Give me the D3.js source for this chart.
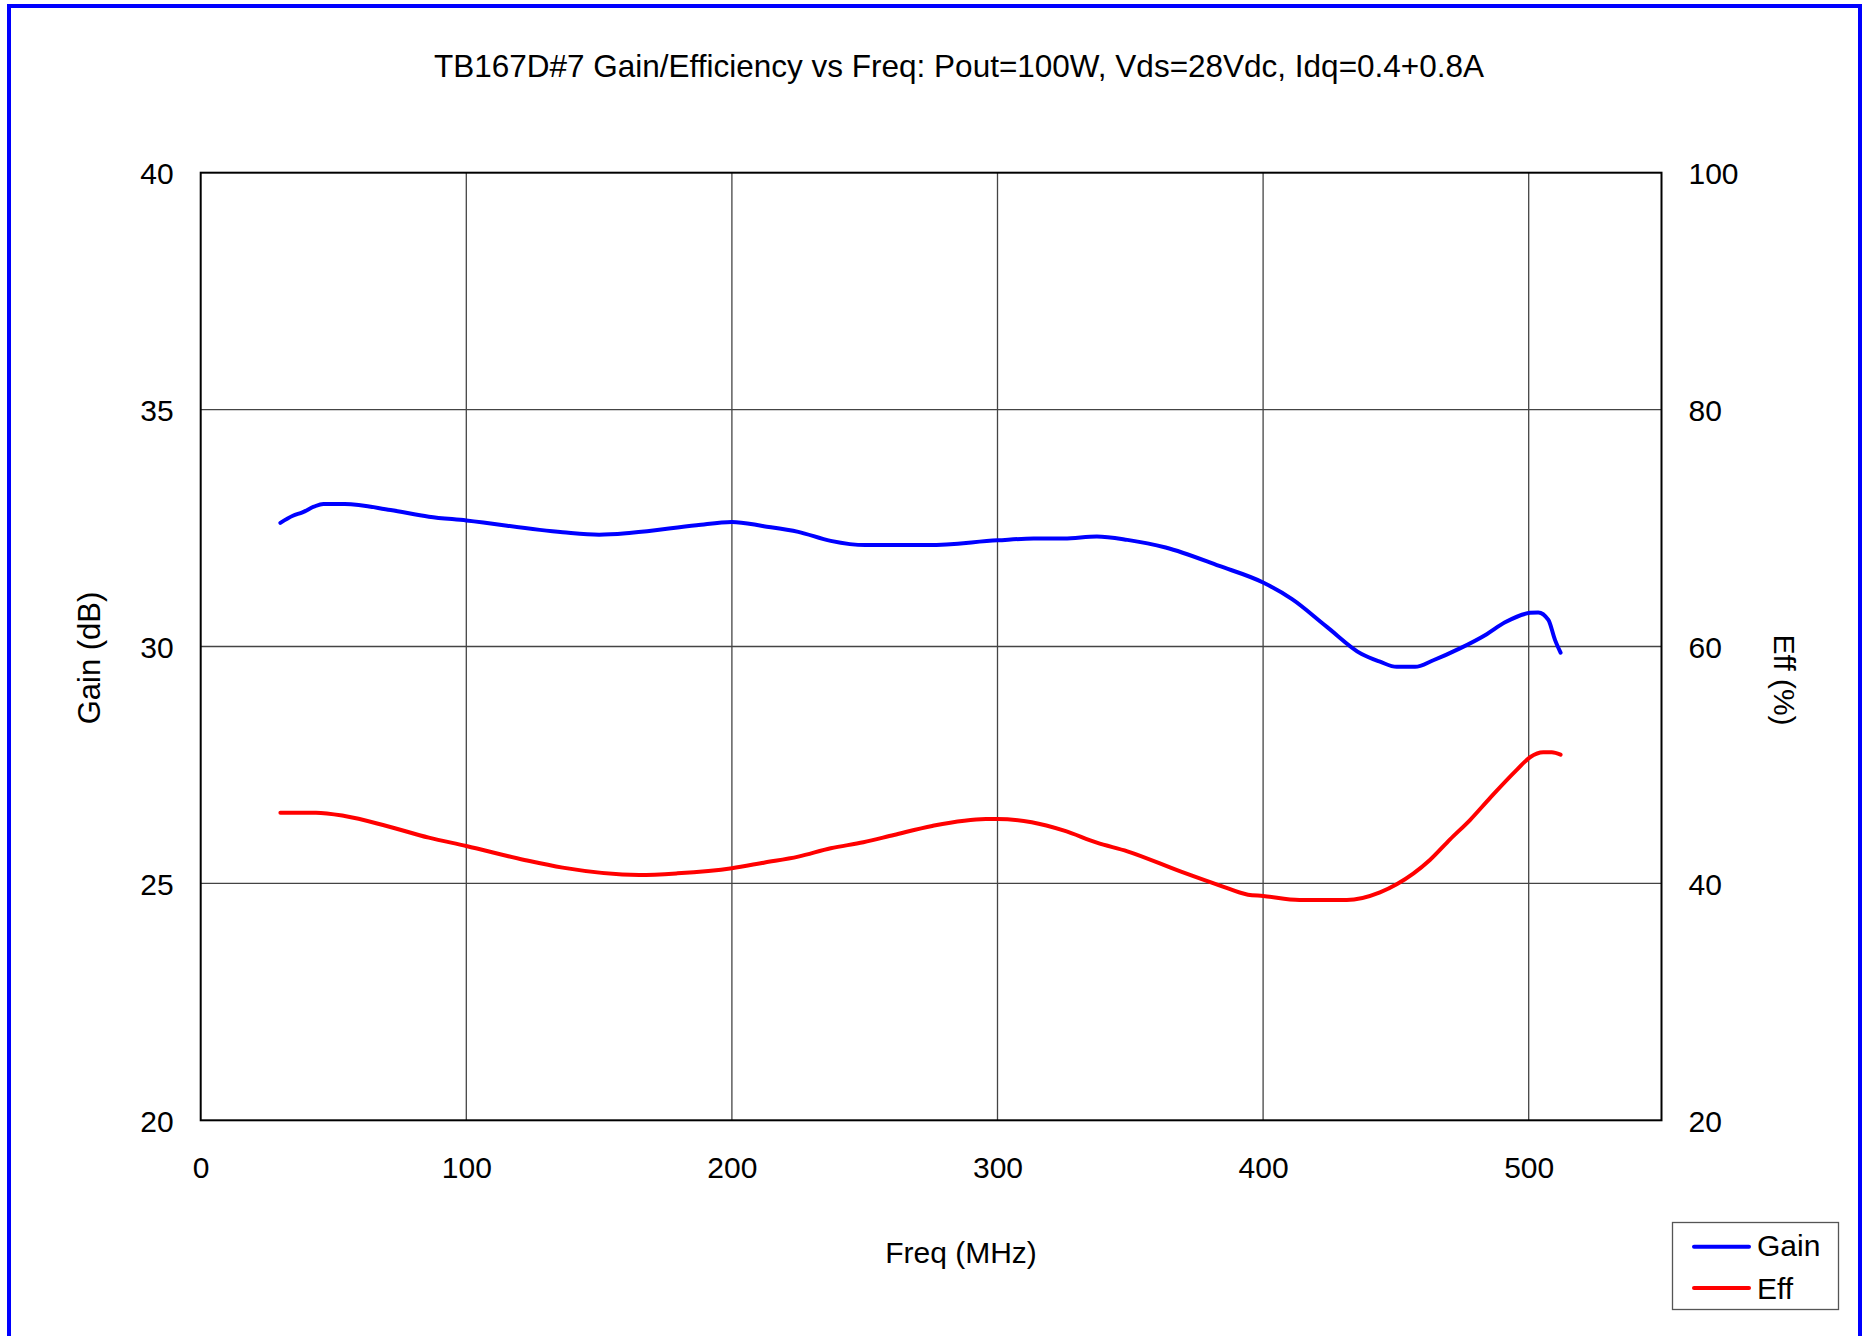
<!DOCTYPE html>
<html>
<head>
<meta charset="utf-8">
<script src="https://cdn.jsdelivr.net/npm/d3@7"></script>
<style>
  html, body { margin: 0; padding: 0; background: #fff; }
  svg text { font-family: "Liberation Sans", Arial, sans-serif; fill: #000; }
</style>
</head>
<body>
<svg id="chart" width="1865" height="1336"></svg>
<script>
// ---- Data ----
const title = "TB167D#7 Gain/Efficiency vs Freq: Pout=100W, Vds=28Vdc, Idq=0.4+0.8A";
const xTicks = [0, 100, 200, 300, 400, 500];
const gainTicks = [20, 25, 30, 35, 40];
const effTicks = [20, 40, 60, 80, 100];

const gainFreq = [30, 34.7, 38.3, 42.6, 46.2, 54.2, 71.5, 85.9, 100, 136.3, 150, 162.2, 186.7, 200, 212, 225, 237.2, 250.2, 274, 300, 313.6, 325.1, 337.4, 348.9, 363.3, 383.5, 400, 410.9, 423.9, 437.1, 444, 450.3, 457.2, 464.1, 474.1, 484.2, 491.1, 500.5, 503.6, 507.4, 509.9, 512];
const gainVal  = [32.61, 32.76, 32.83, 32.95, 33.01, 33.01, 32.88, 32.74, 32.66, 32.41, 32.36, 32.40, 32.56, 32.63, 32.54, 32.42, 32.23, 32.14, 32.14, 32.24, 32.28, 32.28, 32.32, 32.25, 32.09, 31.70, 31.35, 31.00, 30.42, 29.84, 29.68, 29.57, 29.57, 29.71, 29.96, 30.26, 30.51, 30.71, 30.72, 30.56, 30.14, 29.87];

const effFreq = [30, 43.4, 54.2, 70, 85.9, 100, 121.9, 136.3, 165.1, 179.5, 200, 212, 225, 237.2, 249.5, 261, 275.4, 295.6, 300, 312.9, 325.1, 337.4, 348.9, 369.1, 383.5, 394.3, 400, 413.7, 431.5, 444, 450.3, 462.8, 470.4, 477.9, 485.4, 495.5, 500.5, 505.5, 508.7, 512];
const effVal  = [45.97, 45.97, 45.69, 44.85, 43.86, 43.16, 41.98, 41.33, 40.71, 40.85, 41.28, 41.75, 42.26, 42.97, 43.47, 44.09, 44.85, 45.44, 45.44, 45.16, 44.45, 43.44, 42.71, 40.99, 39.84, 39.05, 38.94, 38.60, 38.60, 39.25, 39.93, 41.98, 43.72, 45.35, 47.20, 49.58, 50.65, 51.07, 51.07, 50.87];

const seriesNames = ["Gain", "Eff"];
const seriesColors = ["#0000FF", "#FF0000"];

// ---- Layout ----
const svg = d3.select("#chart");
const pL = 200.7, pR = 1661.5, pT = 172.7, pB = 1120.3;
const FS = 30;

const x = d3.scaleLinear().domain([0, 550]).range([pL, pR]);
const yG = d3.scaleLinear().domain([20, 40]).range([pB, pT]);
const yE = d3.scaleLinear().domain([20, 100]).range([pB, pT]);

// outer blue frame
svg.append("rect")
  .attr("x", 9).attr("y", 6).attr("width", 1851).attr("height", 1400)
  .attr("fill", "none").attr("stroke", "#0000FF").attr("stroke-width", 4);

// title
svg.append("text")
  .attr("x", 959).attr("y", 77)
  .attr("text-anchor", "middle")
  .style("font-size", "31.5px")
  .text(title);

// gridlines
const grid = svg.append("g");
grid.selectAll("line.v").data(xTicks.filter(d => d > 0)).join("line")
  .attr("x1", d => x(d)).attr("x2", d => x(d))
  .attr("y1", pT).attr("y2", pB)
  .attr("stroke", "#444").attr("stroke-width", 1.3);
grid.selectAll("line.h").data(gainTicks.filter(d => d > 20 && d < 40)).join("line")
  .attr("x1", pL).attr("x2", pR)
  .attr("y1", d => yG(d)).attr("y2", d => yG(d))
  .attr("stroke", "#444").attr("stroke-width", 1.3);

// plot border
svg.append("rect")
  .attr("x", pL).attr("y", pT).attr("width", pR - pL).attr("height", pB - pT)
  .attr("fill", "none").attr("stroke", "#000").attr("stroke-width", 2);

// axes
const axB = svg.append("g").attr("transform", `translate(0,${pB})`)
  .call(d3.axisBottom(x).tickValues(xTicks).tickSize(0).tickPadding(36).tickFormat(d3.format("d")));
const axL = svg.append("g").attr("transform", `translate(${pL},0)`)
  .call(d3.axisLeft(yG).tickValues(gainTicks).tickSize(0).tickPadding(27).tickFormat(d3.format("d")));
const axR = svg.append("g").attr("transform", `translate(${pR},0)`)
  .call(d3.axisRight(yE).tickValues(effTicks).tickSize(0).tickPadding(27).tickFormat(d3.format("d")));
[axB, axL, axR].forEach(a => {
  a.select(".domain").remove();
  a.selectAll("text").style("font-size", FS + "px").style("font-family", '"Liberation Sans", Arial, sans-serif').attr("fill", "#000");
});
axL.selectAll("text").attr("dy", "0.36em");
axR.selectAll("text").attr("dy", "0.36em");

// axis titles
svg.append("text")
  .attr("transform", "translate(100,658) rotate(-90)")
  .attr("text-anchor", "middle")
  .style("font-size", "31px")
  .text("Gain (dB)");
svg.append("text")
  .attr("transform", "translate(1774,680) rotate(90)")
  .attr("text-anchor", "middle")
  .style("font-size", "30px")
  .text("Eff (%)");
svg.append("text")
  .attr("x", 961).attr("y", 1263)
  .attr("text-anchor", "middle")
  .style("font-size", "30px")
  .text("Freq (MHz)");

// series
const gainData = gainFreq.map((f, i) => [f, gainVal[i]]);
const effData = effFreq.map((f, i) => [f, effVal[i]]);

const lineG = d3.line().x(d => x(d[0])).y(d => yG(d[1])).curve(d3.curveMonotoneX);
const lineE = d3.line().x(d => x(d[0])).y(d => yE(d[1])).curve(d3.curveMonotoneX);

svg.append("path").datum(gainData).attr("d", lineG)
  .attr("fill", "none").attr("stroke", seriesColors[0]).attr("stroke-width", 4)
  .attr("stroke-linejoin", "round").attr("stroke-linecap", "round");
svg.append("path").datum(effData).attr("d", lineE)
  .attr("fill", "none").attr("stroke", seriesColors[1]).attr("stroke-width", 4)
  .attr("stroke-linejoin", "round").attr("stroke-linecap", "round");

// legend
const lg = svg.append("g");
lg.append("rect")
  .attr("x", 1672.5).attr("y", 1222.5).attr("width", 166).attr("height", 87)
  .attr("fill", "#fff").attr("stroke", "#555").attr("stroke-width", 1.3);
const legY = [1246.7, 1288];
seriesNames.forEach((n, i) => {
  lg.append("line")
    .attr("x1", 1694).attr("x2", 1749).attr("y1", legY[i]).attr("y2", legY[i])
    .attr("stroke", seriesColors[i]).attr("stroke-width", 4).attr("stroke-linecap", "round");
  lg.append("text")
    .attr("x", 1757).attr("y", legY[i] + (i === 0 ? 9 : 11))
    .style("font-size", "30px")
    .text(n);
});
</script>
</body>
</html>
